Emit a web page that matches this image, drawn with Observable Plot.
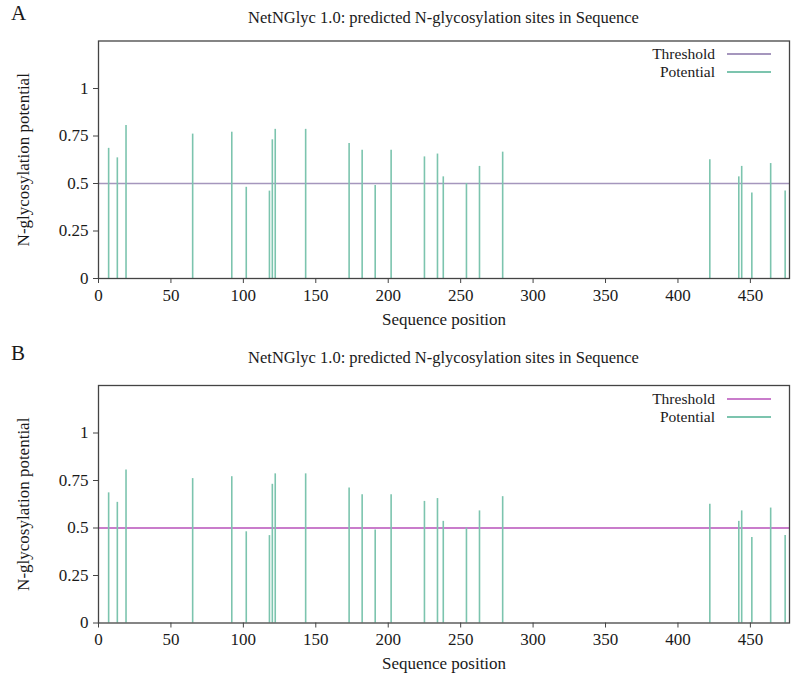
<!DOCTYPE html>
<html>
<head>
<meta charset="utf-8">
<script src="https://cdn.jsdelivr.net/npm/d3@7"></script>
<script src="https://cdn.jsdelivr.net/npm/@observablehq/plot@0.6"></script>
<style>
  body { margin: 0; background: #fff; font-family: "Liberation Serif", "Times New Roman", serif; color: #1a1a1a; }
  .panel { position: absolute; left: 0; width: 800px; height: 345px; }
  .tag { position: absolute; left: 11px; top: 1px; font-size: 21px; }
  .title { position: absolute; left: 98px; width: 691px; top: 8px; text-align: center; font-size: 16.5px; }
  .legend { position: absolute; left: 551px; width: 220px; font-size: 15.5px; line-height: 18px; }
  .legend .row { display: flex; align-items: center; justify-content: flex-end; height: 18px; }
  .legend .swatch { display: inline-block; width: 44px; height: 2px; margin-left: 12px; }
</style>
</head>
<body>
<div id="root"></div>
<script>
// Predicted N-glycosylation sites: sequence position and potential score
const sitePositions = [7, 13, 19, 65, 92, 102, 118, 120, 122, 143, 173, 182, 191, 202, 225, 234, 238, 254, 263, 279, 422, 442, 444, 451, 464, 474];
const sitePotentials = [0.685, 0.635, 0.805, 0.76, 0.77, 0.48, 0.46, 0.73, 0.785, 0.785, 0.71, 0.675, 0.49, 0.675, 0.64, 0.655, 0.535, 0.5, 0.59, 0.665, 0.625, 0.535, 0.59, 0.45, 0.605, 0.46];
const threshold = 0.5;
const sequenceLength = 477;
const xTicks = [0, 50, 100, 150, 200, 250, 300, 350, 400, 450];
const yTicks = [0, 0.25, 0.5, 0.75, 1];
const titleText = "NetNGlyc 1.0: predicted N-glycosylation sites in Sequence";
const legendLabels = ["Threshold", "Potential"];
const potentialColor = "#7cc4ae";
const serif = '"Liberation Serif", "Times New Roman", serif';

const sites = sitePositions.map((p, i) => ({position: p, potential: sitePotentials[i]}));

const panels = [
  {tag: "A", top: 0, thresholdColor: "#a596bd", thresholdWidth: 1.4, marginTop: 10.5, marginBottom: 65, legendTop: 45},
  {tag: "B", top: 340, thresholdColor: "#c97ccb", thresholdWidth: 2, marginTop: 15, marginBottom: 60.5, legendTop: 50}
];

const root = document.getElementById("root");

for (const cfg of panels) {
  const panel = document.createElement("div");
  panel.className = "panel";
  panel.style.top = cfg.top + "px";

  const tag = document.createElement("div");
  tag.className = "tag";
  tag.textContent = cfg.tag;
  panel.appendChild(tag);

  const title = document.createElement("div");
  title.className = "title";
  title.textContent = titleText;
  panel.appendChild(title);

  const chart = Plot.plot({
    width: 800,
    height: 313,
    marginLeft: 98,
    marginRight: 11,
    marginTop: cfg.marginTop,
    marginBottom: cfg.marginBottom,
    style: {fontSize: "17px", fontFamily: serif, color: "#1a1a1a", background: "transparent"},
    x: {domain: [0, sequenceLength]},
    y: {domain: [0, 1.25]},
    marks: [
      Plot.ruleY([threshold], {stroke: cfg.thresholdColor, strokeWidth: cfg.thresholdWidth}),
      Plot.ruleX(sites, {x: "position", y1: 0, y2: "potential", stroke: potentialColor, strokeWidth: 1.6}),
      Plot.frame({stroke: "#444", strokeWidth: 1.3}),
      Plot.axisX({
        ticks: xTicks, tickSize: 5, tickPadding: 5, tickFormat: d => String(d),
        stroke: "#444", label: "Sequence position", labelAnchor: "center", labelArrow: "none", labelOffset: 46
      }),
      Plot.axisY({
        ticks: yTicks, tickSize: 5, tickPadding: 5, tickFormat: d => String(d),
        stroke: "#444", label: "N-glycosylation potential", labelAnchor: "center", labelArrow: "none", labelOffset: 82
      })
    ]
  });
  chart.style.position = "absolute";
  chart.style.left = "0px";
  chart.style.top = "30px";
  panel.appendChild(chart);

  const legend = document.createElement("div");
  legend.className = "legend";
  legend.style.top = cfg.legendTop + "px";
  const colors = [cfg.thresholdColor, potentialColor];
  legendLabels.forEach((label, i) => {
    const row = document.createElement("div");
    row.className = "row";
    const t = document.createElement("span");
    t.textContent = label;
    const s = document.createElement("span");
    s.className = "swatch";
    s.style.background = colors[i];
    row.appendChild(t);
    row.appendChild(s);
    legend.appendChild(row);
  });
  panel.appendChild(legend);

  root.appendChild(panel);
}
</script>
</body>
</html>
